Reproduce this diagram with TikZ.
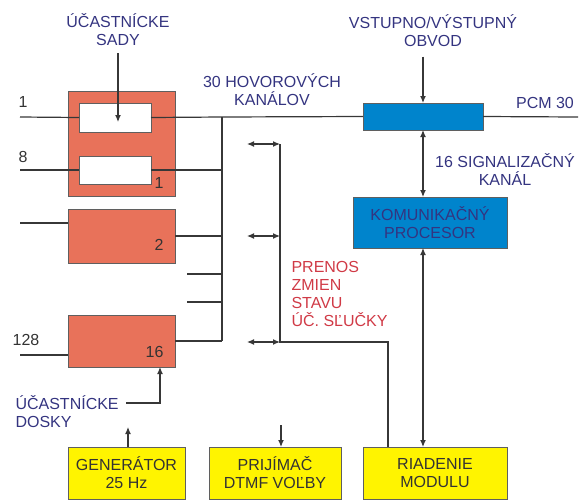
\documentclass[tikz,border=0pt]{standalone}
\usepackage{fontspec}
\setmainfont{Liberation Sans}
\usepackage{tikz}
\usetikzlibrary{arrows.meta,calc}
\definecolor{boardred}{RGB}{232,114,90}
\definecolor{procblue}{RGB}{0,132,204}
\definecolor{ctrlyellow}{RGB}{255,244,0}
\definecolor{labelnavy}{RGB}{52,52,128}
\definecolor{labelred}{RGB}{208,58,70}
\definecolor{wiregray}{RGB}{55,55,55}
\tikzset{
  wire/.style={draw=wiregray, line width=1.2pt},
  tip/.style={wire, -{Latex[length=7pt,width=6pt]}},
  bitip/.style={wire, {Latex[length=7pt,width=6pt]}-{Latex[length=7pt,width=6pt]}},
  blk/.style={draw=wiregray!80, line width=0.9pt, anchor=north west, inner sep=0pt, outer sep=0pt},
  board/.style={blk, fill=boardred},
  slot/.style={blk, fill=white},
  proc/.style={blk, fill=procblue, align=center, text=labelnavy},
  unit/.style={blk, fill=ctrlyellow, align=center, text=black!80},
  caption/.style={text=labelnavy, align=center},
  num/.style={text=black!80}
}
\begin{document}
\begin{tikzpicture}[x=1pt,y=-1pt,font=\fontsize{16}{18}\selectfont]
\useasboundingbox (0,0) rectangle (582,499);
% ucastnicke dosky
\node[board, minimum width=107pt, minimum height=105pt] (b1) at (68,91) {};
\node[slot, minimum width=72pt, minimum height=29pt] (s1) at (79,103) {};
\node[slot, minimum width=72pt, minimum height=28pt] (s8) at (79,156) {};
\node[board, minimum width=107pt, minimum height=54pt] (b2) at (68,209) {};
\node[board, minimum width=107pt, minimum height=52pt] (b16) at (68,315) {};
\node[num, anchor=south east] at ([xshift=-8pt,yshift=4pt]b1.south east) {1};
\node[num, anchor=south east] at ([xshift=-8pt,yshift=9pt]b2.south east) {2};
\node[num, anchor=south east] at ([xshift=-8pt,yshift=6pt]b16.south east) {16};
% bloky vpravo a dole
\node[proc, minimum width=120pt, minimum height=27pt] (io) at (363,103) {};
\node[proc, minimum width=154pt, minimum height=51pt] (cpu) at (353,197) {KOMUNIKAČNÝ\\PROCESOR};
\node[unit, minimum width=117pt, minimum height=52pt] (gen) at (68,447) {GENERÁTOR\\25 Hz};
\node[unit, minimum width=132pt, minimum height=52pt] (dtmf) at (209,447) {PRIJÍMAČ\\DTMF VOĽBY};
\node[unit, minimum width=144pt, minimum height=52pt] (ctrl) at (363,447) {RIADENIE\\MODULU};
% popisy
\node[caption] (sady) at (118,30) {ÚČASTNÍCKE\\SADY};
\node[caption] (kanaly) at (272,90) {30 HOVOROVÝCH\\KANÁLOV};
\node[caption] (obvod) at (433,31) {VSTUPNO/VÝSTUPNÝ\\OBVOD};
\node[caption] (pcm) at (545,103) {PCM 30};
\node[caption] (sig) at (505,170) {16 SIGNALIZAČNÝ\\KANÁL};
\node[caption, align=left, anchor=west] (dosky) at (12,412) {ÚČASTNÍCKE\\DOSKY};
\node[text=labelred, align=left, anchor=west] (prenos) at (288,294) {PRENOS\\ZMIEN\\STAVU\\ÚČ. SĽUČKY};
\node[num] (n1) at (23,102) {1};
\node[num] (n8) at (23,157) {8};
\node[num] (n128) at (26,340) {128};
% body zbernice
\coordinate (in1) at (20,117);
\coordinate (in8) at (20,170);
\coordinate (in2) at (20,223);
\coordinate (in16) at (20,355);
\coordinate (bustop) at (222,117);
\coordinate (busbot) at (222,341);
\coordinate (pcmend) at (578,117);
% hovorova zbernica
\draw[wire] (in1) -- (s1.west);
\draw[wire] (s1.east) -- (bustop) -- (io.west);
\draw[wire] (io.east) -- (pcmend);
\draw[wire] (bustop) -- (busbot);
\draw[wire] (in8) -- (s8.west);
\draw[wire] (s8.east) -- (s8.east -| bustop);
\draw[wire] (in2) -- (in2 -| b2.west);
\draw[wire] (b2.east |- 0,236) -- (bustop |- 0,236);
\draw[wire] (187,274) -- (bustop |- 0,274);
\draw[wire] (187,302) -- (bustop |- 0,302);
\draw[wire] (in16) -- (in16 -| b16.west);
\draw[wire] (b16.east |- busbot) -- (busbot);
% signalizacia
\coordinate (sigtop) at (280,144);
\coordinate (sigbot) at (280,342);
\draw[wire] (sigtop) -- (sigbot) -- (388,342) -- (ctrl.north -| 388,0);
\foreach \y in {144,236,342}
  \draw[bitip] (247,\y) -- (sigtop |- 0,\y);
\draw[bitip] (io.south -| 423,0) -- (cpu.north -| 423,0);
\draw[bitip] (cpu.south -| 423,0) -- (ctrl.north -| 423,0);
% sipky od popisov
\draw[tip] (sady.south |- 0,53) -- (118,122);
\draw[tip] (obvod.south -| io.north) ++(0,6) -- (io.north);
\draw[tip] (dosky.north east |- 0,403) ++(4,0) -| (b16.south -| 160,0);
\draw[tip] (gen.north -| 128,0) -- (128,427);
\draw[tip] (281,425) -- (dtmf.north -| 281,0);
\end{tikzpicture}
\end{document}
